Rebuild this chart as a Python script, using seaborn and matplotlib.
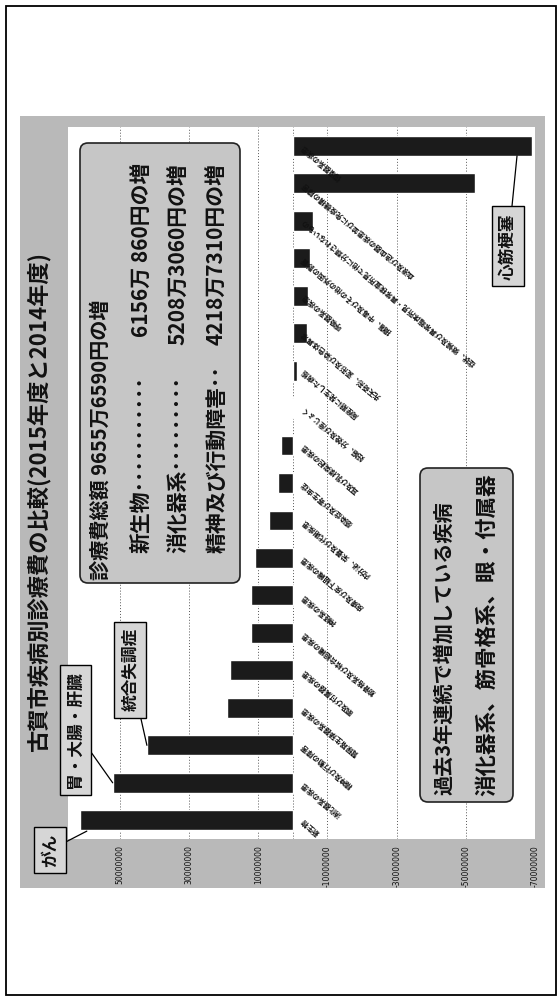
import matplotlib
matplotlib.use("Agg")
import matplotlib.pyplot as plt
import seaborn as sns
import pandas as pd
from matplotlib.patches import Rectangle, FancyBboxPatch
from matplotlib.ticker import FixedLocator

# ---------------- data ----------------
title = "古賀市疾病別診療費の比較(2015年度と2014年度)"

categories = [
    "循環器系の疾患",
    "血液及び造血器の疾患並びに免疫機構の障害",
    "症状、徴候及び異常臨床所見・異常検査所見で他に分類されないもの",
    "損傷、中毒及びその他の外因の影響",
    "呼吸器系の疾患",
    "先天奇形、変形及び染色体異常",
    "周産期に発生した病態",
    "妊娠、分娩及び産じょく",
    "耳及び乳様突起の疾患",
    "感染症及び寄生虫症",
    "内分泌、栄養及び代謝疾患",
    "皮膚及び皮下組織の疾患",
    "神経系の疾患",
    "筋骨格系及び結合組織の疾患",
    "眼及び付属器の疾患",
    "腎尿路生殖器系の疾患",
    "精神及び行動の障害",
    "消化器系の疾患",
    "新生物",
]
diff_values = [
    -69100000, -52600000, -5800000, -4900000, -4300000, -4000000, -1200000,
    300000, 3500000, 4200000, 7000000, 11000000, 12000000, 12200000,
    18200000, 19000000, 42187310, 52083060, 61560860,
]
value_ticks = [50000000, 30000000, 10000000, -10000000, -30000000, -50000000, -70000000]

callout_cats = ["新生物", "消化器系の疾患", "精神及び行動の障害", "循環器系の疾患"]
callout_texts = ["がん", "胃・大腸・肝臓", "統合失調症", "心筋梗塞"]

summary_total = "診療費総額 9655万6590円の増"
summary_items = ["新生物", "消化器系", "精神及び行動障害"]
summary_leaders = ["･･･････････", "･････････", "･･"]
summary_amounts = ["6156万 860円の増", "5208万3060円の増", "4218万7310円の増"]

trend_title = "過去3年連続で増加している疾病"
trend_items = "消化器系、筋骨格系、眼・付属器"

# ---------------- style ----------------
sns.set_theme(style="white")
plt.rcParams["font.family"] = ["Noto Sans CJK JP", "DejaVu Sans"]

W, H = 559, 997
fig = plt.figure(figsize=(W / 100, H / 100), dpi=100)
fig.patch.set_facecolor("white")
T = fig.dpi_scale_trans
INK = "#111111"


def P(px, py):
    return (px / 100.0, (H - py) / 100.0)


# chart area (halftone grey)
x0, y0 = P(20, 888)
fig.add_artist(Rectangle((x0, y0), (545 - 20) / 100, (888 - 116) / 100,
                         transform=T, facecolor="#b9b9b9", edgecolor="none", zorder=0))
# outer frame
x0, y0 = P(6, 995)
fig.add_artist(Rectangle((x0, y0), (556 - 6) / 100, (995 - 6) / 100,
                         transform=T, facecolor="none", edgecolor="black", lw=1.3, zorder=5))

# plot area
ax = fig.add_axes([68 / W, 1 - 839 / H, (535 - 68) / W, (839 - 127) / H])
ax.set_facecolor("white")
ax.set_zorder(1)

df = pd.DataFrame({"category": categories, "diff": diff_values})
sns.barplot(data=df, x="diff", y="category", orient="h", color="#1b1b1b",
            saturation=1, width=0.53, ax=ax, zorder=3)

ax.set_yticks([])
ax.set_ylabel("")
ax.set_xlabel("")
ax.set_xlim(65e6, -70e6)
ax.set_ylim(len(categories) - 0.5, -0.5)
ax.xaxis.set_major_locator(FixedLocator(value_ticks))
ax.set_xticklabels([f"{v:d}" for v in value_ticks], rotation=90, fontsize=5.5,
                   family=["DejaVu Sans"])
ax.tick_params(axis="x", length=0, pad=4.3, colors=INK)
ax.grid(axis="x", linestyle=(0, (1, 2)), color="#555555", linewidth=0.7, zorder=1)
ax.axvline(0, linestyle=(0, (1, 2)), color="#555555", linewidth=0.7, zorder=1)
for s in ax.spines.values():
    s.set_visible(False)

# category labels (rotated)
for j, cat in enumerate(categories):
    ax.text(-2.6e6, j, cat, rotation=140, rotation_mode="anchor", ha="right",
            va="center", fontsize=5.2, fontweight="bold", color=INK, zorder=4)

# callouts
offsets = [(-26.6, -13.7), (-27.0, 38.2), (-12.2, 54.4), (-6.5, -65.2)]
tweaks = [(-2e6, 0.29), (0, 0), (0, 0), (4.3e6, 0.27)]
for cat, txt, off, tw in zip(callout_cats, callout_texts, offsets, tweaks):
    j = categories.index(cat)
    v = diff_values[j]
    ax.annotate(txt, xy=(v + tw[0], j + tw[1]), xytext=off, textcoords="offset points",
                rotation=90, ha="center", va="center", fontsize=12, fontweight="bold",
                color=INK,
                bbox=dict(boxstyle="square,pad=0.4", fc="#d6d6d6", ec="black", lw=1.0),
                arrowprops=dict(arrowstyle="-", color="black", lw=0.9, shrinkA=0, shrinkB=0),
                annotation_clip=False, zorder=6)

# title
tx, ty = P(39, 502)
fig.text(tx, ty, title, transform=T, rotation=90, ha="center", va="center",
         fontsize=16, fontweight="bold", color=INK, zorder=6)

# summary box
bx, by = P(80, 583)
fig.add_artist(FancyBboxPatch((bx, by), 1.60, 4.40,
                              boxstyle="round,pad=0,rounding_size=0.08", transform=T,
                              fc="#c6c6c6", ec="#222222", lw=1.2, zorder=6))
tx, ty = P(100, 580)
fig.text(tx, ty, summary_total, transform=T, rotation=90, rotation_mode="anchor",
         ha="left", va="center", fontsize=14.5, fontweight="bold", color=INK, zorder=7)
for xpx, item, lead, amt in zip([142, 179, 217], summary_items, summary_leaders, summary_amounts):
    tx, ty = P(xpx, 553)
    fig.text(tx, ty, item + lead, transform=T, rotation=90, rotation_mode="anchor",
             ha="left", va="center", fontsize=15, fontweight="bold", color=INK, zorder=7)
    tx, ty = P(xpx, 163)
    fig.text(tx, ty, amt, transform=T, rotation=90, rotation_mode="anchor",
             ha="right", va="center", fontsize=15, fontweight="bold", color=INK, zorder=7)

# trend box
bx, by = P(420, 802)
fig.add_artist(FancyBboxPatch((bx, by), 0.93, 3.34,
                              boxstyle="round,pad=0,rounding_size=0.08", transform=T,
                              fc="#c6c6c6", ec="#222222", lw=1.2, zorder=6))
tx, ty = P(444, 648)
fig.text(tx, ty, trend_title, transform=T, rotation=90, rotation_mode="anchor",
         ha="center", va="center", fontsize=14.5, fontweight="bold", color=INK, zorder=7)
tx, ty = P(487, 635)
fig.text(tx, ty, trend_items, transform=T, rotation=90, rotation_mode="anchor",
         ha="center", va="center", fontsize=15.5, fontweight="bold", color=INK, zorder=7)

fig.savefig("out.png", dpi=100)
